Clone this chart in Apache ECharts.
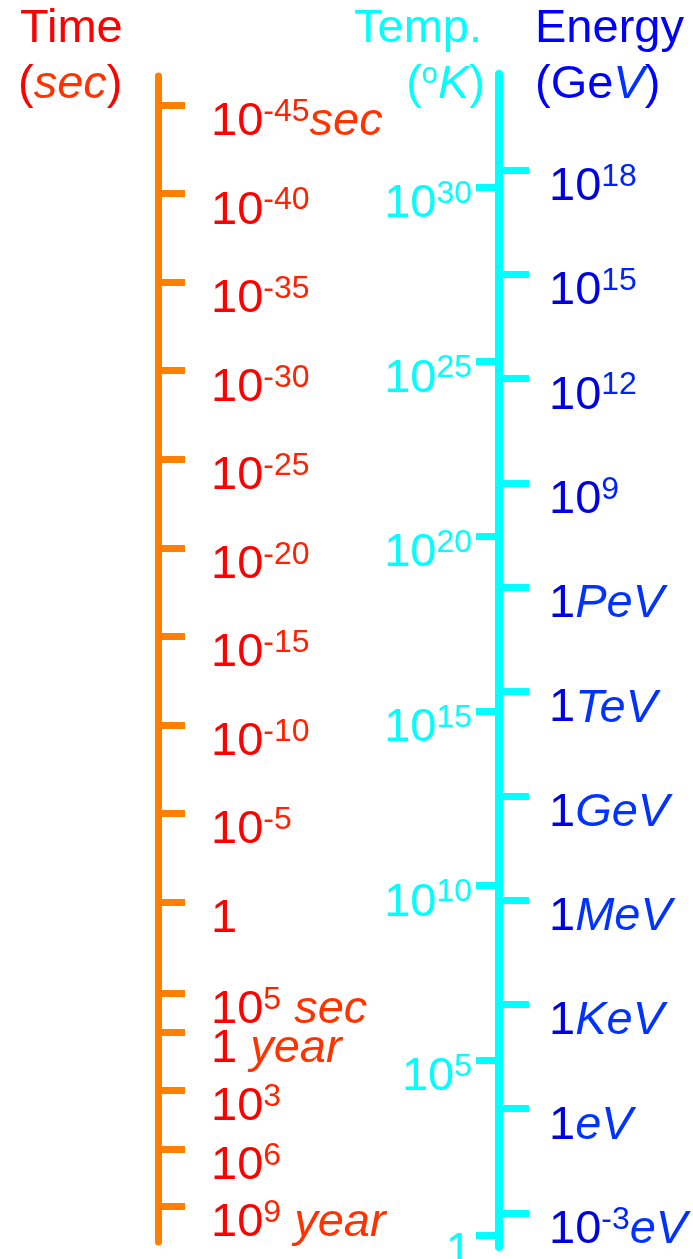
<!DOCTYPE html>
<html>
<head>
<meta charset="utf-8">
<script src="https://cdn.jsdelivr.net/npm/echarts@6/dist/echarts.min.js"></script>
<style>
  html, body { margin: 0; padding: 0; background: #fff; }
  #chart { width: 693px; height: 1259px; }
</style>
</head>
<body>
<div id="chart"></div>
<script>
// time scale: log10(seconds) where each tick sits
const timeTicks = [-45, -40, -35, -30, -25, -20, -15, -10, -5, 0, 5.14, 7.34, 10.62, 13.95, 17.17];
const timeLabels = [
  '{m|10}{s|-45}{i|sec}', '{m|10}{s|-40}', '{m|10}{s|-35}', '{m|10}{s|-30}', '{m|10}{s|-25}',
  '{m|10}{s|-20}', '{m|10}{s|-15}', '{m|10}{s|-10}', '{m|10}{s|-5}', '{m|1}',
  '{m|10}{s|5}{i| sec}', '{m|1 }{i|year}', '{m|10}{s|3}', '{m|10}{s|6}', '{m|10}{s|9}{i| year}'
];
// temperature: log10(K)
const tempTicks = [30, 25, 20, 15, 10, 5, 0];
const tempLabels = ['{m|10}{s|30}', '{m|10}{s|25}', '{m|10}{s|20}', '{m|10}{s|15}', '{m|10}{s|10}', '{m|10}{s|5}', '{m|1}'];
// energy: log10(GeV)
const energyTicks = [18, 15, 12, 9, 6, 3, 0, -3, -6, -9, -12];
const energyLabels = [
  '{m|10}{s|18}', '{m|10}{s|15}', '{m|10}{s|12}', '{m|10}{s|9}', '{m|1}{i|PeV}', '{m|1}{i|TeV}',
  '{m|1}{i|GeV}', '{m|1}{i|MeV}', '{m|1}{i|KeV}', '{m|1}{i|eV}', '{m|10}{s|-3}{i|eV}'
];

const FONT = '"Liberation Sans", Arial, sans-serif';
const ORANGE = '#FF8000';
const CYAN = '#00FFFF';

// 上标靠 padding 抬高
function rich (main, sup, ital) {
  return {
    m: { color: main, fontSize: 47, lineHeight: 34, fontFamily: FONT },
    s: { color: sup, fontSize: 32, lineHeight: 14, padding: [0, 0, 20, 0], fontFamily: FONT },
    i: { color: ital, fontSize: 47, lineHeight: 34, fontStyle: 'italic', fontFamily: FONT }
  }
}

function pick (ticks, labels) {
  return function (v) {
    let i = ticks.indexOf(v)
    return i < 0 ? '' : labels[i]
  }
}

let myChart = echarts.init(document.getElementById('chart'), null, { renderer: 'canvas' })

let titleStyle = function (color, ital) {
  return {
    color: color,
    fontSize: 47,
    fontWeight: 'normal',
    fontFamily: FONT,
    lineHeight: 50,
    rich: {
      i: { color: ital, fontSize: 47, fontStyle: 'italic', fontFamily: FONT, lineHeight: 50 },
      o: { color: color, fontSize: 29, fontFamily: FONT, lineHeight: 20, padding: [0, 0, 20, 0] }
    }
  }
}

let option = {
  backgroundColor: '#fff',
  animation: false,
  title: [
    { text: 'Time', left: 20, top: 4, padding: 0, textStyle: titleStyle('#FF0000', '#FF3300') },
    { text: '({i|sec})', left: 18, top: 60, padding: 0, textStyle: titleStyle('#FF0000', '#FF3300') },
    { text: 'Temp.', right: 211, top: 4, padding: 0, textStyle: titleStyle(CYAN, CYAN) },
    { text: '({o|o}{i|K})', right: 208, top: 60, padding: 0, textStyle: titleStyle(CYAN, CYAN) },
    { text: 'Energy', left: 535, top: 4, padding: 0, textStyle: titleStyle('#0000FF', '#0033FF') },
    { text: '(Ge{i|V})', left: 535, top: 60, padding: 0, textStyle: titleStyle('#0000FF', '#0033FF') }
  ],
  grid: [
    { left: 158, top: 76, width: 300, height: 1166, containLabel: false, outerBoundsMode: 'none' }, // 时间
    { left: 499, top: 74, width: 150, height: 1173, containLabel: false, outerBoundsMode: 'none' }, // 温度
    { left: 499, top: 74, width: 150, height: 1173, containLabel: false, outerBoundsMode: 'none' } // 能量
  ],
  xAxis: [
    { gridIndex: 0, type: 'value', show: false },
    { gridIndex: 1, type: 'value', show: false },
    { gridIndex: 2, type: 'value', show: false }
  ],
  yAxis: [
    {
      gridIndex: 0,
      type: 'value',
      inverse: true,
      min: -46.64,
      max: 19.2,
      splitLine: { show: false },
      axisLine: { show: true, lineStyle: { color: ORANGE, width: 7 } },
      axisTick: { show: true, inside: true, length: 27, customValues: timeTicks, lineStyle: { color: ORANGE, width: 7 } },
      axisLabel: {
        inside: true,
        margin: 53,
        customValues: timeTicks,
        verticalAlign: 'top',
        align: 'left',
        formatter: pick(timeTicks, timeLabels),
        rich: rich('#FF0000', '#FF2200', '#FF3300')
      }
    },
    {
      gridIndex: 1,
      type: 'value',
      min: -0.344,
      max: 33.235,
      splitLine: { show: false },
      axisLine: { show: true, lineStyle: { color: CYAN, width: 8 } },
      axisTick: { show: true, inside: false, length: 23, customValues: tempTicks, lineStyle: { color: CYAN, width: 7 } },
      axisLabel: {
        margin: 27,
        customValues: tempTicks,
        verticalAlign: 'top',
        align: 'right',
        formatter: pick(tempTicks, tempLabels),
        rich: rich(CYAN, CYAN, CYAN)
      }
    },
    {
      gridIndex: 2,
      type: 'value',
      min: -12.978,
      max: 20.761,
      splitLine: { show: false },
      axisLine: { show: false },
      axisTick: { show: true, inside: true, length: 30, customValues: energyTicks, lineStyle: { color: CYAN, width: 7 } },
      axisLabel: {
        inside: true,
        margin: 50,
        customValues: energyTicks,
        verticalAlign: 'top',
        align: 'left',
        formatter: pick(energyTicks, energyLabels),
        rich: rich('#0000E0', '#0022FF', '#0033FF')
      }
    }
  ],
  series: []
}
myChart.setOption(option, true)
</script>
</body>
</html>
